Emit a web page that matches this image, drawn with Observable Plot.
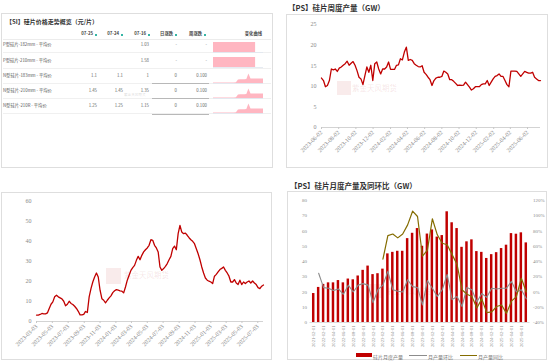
<!DOCTYPE html>
<html><head><meta charset="utf-8">
<script src="https://cdn.jsdelivr.net/npm/d3@7"></script>
<script src="https://cdn.jsdelivr.net/npm/@observablehq/plot@0.6"></script>
<style>
html,body{margin:0;padding:0;background:#fff}
body{width:550px;height:362px;position:relative;overflow:hidden;font-family:"Noto Sans CJK SC","Noto Sans",sans-serif}
#root{position:absolute;left:0;top:0;width:550px;height:362px}
.box{position:absolute;border:1px solid #dedede;box-sizing:border-box}
.t{position:absolute;white-space:nowrap;line-height:1}
svg{overflow:visible}
</style></head><body>
<div id="root"></div>
<script>
// ---------- Panel 1: price table ----------
const tableTitle = "【SI】硅片价格走势概览（元/片）";
const tableHeaders = ["07-25", "07-24", "07-16", "日涨跌", "周涨跌"];
const sparkHeader = "变化曲线";
const products = ["P型硅片-182mm - 平均价", "P型硅片-210mm - 平均价", "N型硅片-183mm - 平均价", "N型硅片-210mm - 平均价", "N型硅片-210R - 平均价"];
const price0725 = [null, null, 1.1, 1.45, 1.25];
const price0724 = [null, null, 1.1, 1.45, 1.25];
const price0716 = [1.03, 1.58, 1, 1.35, 1.15];
const dayChange = ["-", "-", "0", "0", "0"];
const weekChange = ["-", "-", "0.100", "0.100", "0.100"];
const sparkP = [1,1,1,1,1,1,1,1,1,1,1,1,1,1,1,1,0,0,0,0];
const sparkN = [0.05,0.05,0.05,0.05,0.05,0.05,0.05,0.05,0.05,0.05,0.05,0.08,0.36,0.38,0.38,0.38,0.4,0.95,0.45,0.45,0.45,0.45,0.45,0.45,0.45];
const sparkRows = [sparkP, sparkP, sparkN, sparkN, sparkN];

// ---------- Panel 2: weekly wafer output (GW) ----------
const weeklyTitle = "【PS】硅片周度产量（GW）";
const weeklyStartDate = "2023-06-02";
const weeklyOutput = [12.0,11.4,9.9,10.2,11.4,14.2,14.0,14.2,13.6,14.4,14.7,15.1,15.5,16.1,15.1,15.6,16.0,15.1,13.8,12.2,11.8,10.4,12.6,14.7,13.4,15.1,11.4,15.5,15.9,14.2,13.0,14.2,14.2,14.7,15.9,14.1,14.1,14.1,15.1,15.2,16.7,16.4,18.3,19.5,16.3,16.5,16.3,15.5,15.1,14.8,14.7,15.0,13.4,12.9,12.2,11.6,10.2,11.4,12.0,12.2,12.2,12.4,13.7,13.4,13.0,11.6,11.6,11.2,10.7,10.2,10.3,10.2,10.3,11.0,10.4,9.8,9.1,9.4,9.9,9.9,9.9,10.4,10.6,10.6,11.4,10.2,11.0,11.8,12.4,12.6,13.0,12.4,12.4,11.4,10.4,9.9,13.7,13.7,13.7,13.6,13.0,12.4,13.0,13.6,13.4,13.2,13.2,13.4,12.2,11.8,11.4,11.4];
const weeklyTicks = ["2023-06-02","2023-08-02","2023-10-02","2023-12-02","2024-02-02","2024-04-02","2024-06-02","2024-08-02","2024-10-02","2024-12-02","2025-02-02","2025-04-02","2025-06-02"];
const weeklyYTicks = [0, 5, 10, 15, 20, 25];

// ---------- Panel 3: weekly series ----------
const series3StartDate = "2023-03-03";
const series3 = [3.2,3.2,3.5,4.0,3.8,3.8,4.3,6.5,8.6,9.8,12.3,13.1,12.3,11.8,11.3,10.1,7.8,8.6,10.1,9.0,8.5,7.6,6.5,5.1,3.3,3.3,3.6,5.0,4.5,12.3,16.4,19.7,22.2,24.2,22.2,15.6,11.4,10.6,9.3,10.6,11.8,12.8,14.4,15.3,15.9,15.6,15.3,15.1,14.3,17.2,20.6,23.1,25.5,26.9,28.0,30.5,32.5,30.8,33.0,34.7,35.8,36.7,38.0,40.8,40.5,38.0,36.7,34.7,27.2,25.5,26.4,27.5,28.9,30.8,32.5,36.3,37.6,35.8,43.8,47.9,44.6,43.8,44.1,43.0,41.8,40.8,40.0,38.8,36.3,33.8,30.8,27.2,24.2,21.7,20.6,20.1,19.7,18.9,22.6,23.5,24.7,25.9,26.5,27.2,25.5,24.2,22.6,19.7,19.7,20.9,19.2,18.4,20.6,18.4,19.7,18.9,19.7,20.2,19.2,20.2,19.2,18.4,16.9,16.4,17.6,18.2];
const series3Ticks = ["2023-03-03","2023-05-03","2023-07-03","2023-09-03","2023-11-03","2024-01-03","2024-03-03","2024-05-03","2024-07-03","2024-09-03","2024-11-03","2025-01-03","2025-03-03","2025-05-03","2025-07-03"];
const series3YTicks = [0, 10, 20, 30, 40, 50, 60];

// ---------- Panel 4: monthly output & MoM / YoY ----------
const monthlyTitle = "【PS】硅片月度产量及同环比（GW）";
const months = ["2021-12-01","2022-01-01","2022-02-01","2022-03-01","2022-04-01","2022-05-01","2022-06-01","2022-07-01","2022-08-01","2022-09-01","2022-10-01","2022-11-01","2022-12-01","2023-01-01","2023-02-01","2023-03-01","2023-04-01","2023-05-01","2023-06-01","2023-07-01","2023-08-01","2023-09-01","2023-10-01","2023-11-01","2023-12-01","2024-01-01","2024-02-01","2024-03-01","2024-04-01","2024-05-01","2024-06-01","2024-07-01","2024-08-01","2024-09-01","2024-10-01","2024-11-01","2024-12-01","2025-01-01","2025-02-01","2025-03-01","2025-04-01","2025-05-01","2025-06-01","2025-07-01"];
const monthlyOutput = [19,23,25,26,26,27.5,26,28.5,28,30.5,34.2,37,31.4,32,35,45,46,46.7,46.7,55,58.5,61.6,50,58,60.7,56,57,72.6,65.4,61.6,49.3,52.9,54.2,46.5,46,42,44.5,45.8,48.5,50.7,58.3,57.9,58.8,52.2];
const momPct = [null,24.6,5.7,5,2,4,-3,9,0,9,11,9,-14,3,9,27,3,1,0,16,7,6,-17,15,5,-6,3,23,-10,-6,-19,6,3,-13,-2,-7,5,4,5,5,14,0,3,-9];
const yoyPct = [null,null,null,null,null,null,null,null,null,null,null,null,null,null,43,74,76,71,76,88,106,99,47,55,96,75,64,62,49,36,3,-3,-6,-21,-9,-27,-26,-19,-17,-28,-12,-6,18,0];
const leftTicks = [0,10,20,30,40,50,60,70,80];
const rightTickLabels = ["-40%","-20%","0%","20%","40%","60%","80%","100%","120%"];
const legendLabels = ["硅片月度产量", "月产量环比", "月产量同比"];
const watermark = "紫金天风期货";

// colours
const RED = "#c00000", GRAY = "#8c8c8c", OLIVE = "#846c00", AXIS = "#8a8a8a";

const root = document.getElementById("root");
function box(l, t, w, h) {
  const d = document.createElement("div"); d.className = "box";
  Object.assign(d.style, {left: l + "px", top: t + "px", width: w + "px", height: h + "px"});
  root.appendChild(d); return d;
}
function txt(s, x, y, anchor, css) {
  const d = document.createElement("div"); d.className = "t"; d.textContent = s;
  d.style.left = x + "px"; d.style.top = y + "px";
  const tx = anchor === "end" ? "-100%" : anchor === "middle" ? "-50%" : "0";
  d.style.transform = `translate(${tx},-50%)`;
  Object.assign(d.style, css || {});
  root.appendChild(d); return d;
}
function rect(l, t, w, h, bg) {
  const d = document.createElement("div");
  Object.assign(d.style, {position: "absolute", left: l + "px", top: t + "px", width: w + "px", height: h + "px", background: bg});
  root.appendChild(d); return d;
}
function mount(svg, l, t) {
  const w = document.createElement("div");
  Object.assign(w.style, {position: "absolute", left: l + "px", top: t + "px"});
  w.appendChild(svg); root.appendChild(w);
}
const parse = d3.utcParse("%Y-%m-%d");
const fmt = d3.utcFormat("%Y-%m-%d");

// ===== Panel 1 =====
box(1, 13, 272, 155);
txt(tableTitle, 6, 21.5, "start", {fontSize: "6px", fontWeight: "700", color: "#333", fontFamily: "'Noto Sans CJK SC'"});
const colRight = [97, 123, 149, 177, 207];
const headRight = [93, 119, 146, 173, 202];
const rowY = [44, 59.8, 75.2, 90, 105.2];
tableHeaders.forEach((h, i) => {
  txt(h, headRight[i], 33, "end", {fontSize: "4.3px", color: "#444", fontWeight: "600"});
  rect(headRight[i] + 2, 33.5, 1.6, 2.6, "#35b5a5");
});
txt(sparkHeader, 262, 33, "end", {fontSize: "4.3px", color: "#444", fontWeight: "600"});
rect(3, 38.5, 268, 0.6, "#ececec");
[52, 67.5, 82.8, 97.8, 112.8].forEach(y => rect(3, y, 268, 0.6, "#f0f0f0"));
[82.8, 97.8, 113.8].forEach(y => rect(152, y, 57, 0.8, "#b8b8b8"));
const fmtV = v => v == null ? "" : String(v);
products.forEach((p, r) => {
  const y = rowY[r];
  txt(p, 3, y, "start", {fontSize: "4.3px", color: "#555"});
  [fmtV(price0725[r]), fmtV(price0724[r]), fmtV(price0716[r]), dayChange[r], weekChange[r]].forEach((v, c) => {
    if (v !== "") txt(v, colRight[c], y, "end", {fontSize: "4.3px", color: "#666"});
  });
  const data = sparkRows[r].map((v, i) => ({i, v}));
  const sp = Plot.plot({
    width: 50, height: 10, margin: 0,
    x: {domain: [0, data.length - 1], axis: null},
    y: {domain: [0, 1], axis: null},
    marks: [
      Plot.ruleY([0], {stroke: "#dfe6ef", strokeWidth: 0.8}),
      Plot.areaY(data, {x: "i", y: "v", fill: "#ffb6c1", curve: r < 2 ? "step-after" : "linear"})
    ]
  });
  mount(sp, 213, y - 2.5);
});
txt(watermark, 124, 94.5, "start", {fontSize: "3.6px", color: "rgba(150,150,150,0.35)"});

// ===== Panel 2 =====
txt(weeklyTitle, 288, 8, "start", {fontSize: "7.5px", fontWeight: "700", color: "#333"});
box(286, 14, 262, 154);
const wStart = parse(weeklyStartDate);
const weekly = weeklyOutput.map((v, i) => ({date: d3.utcDay.offset(wStart, 7 * i), v}));
txt(watermark, 352, 88, "start", {fontSize: "7.5px", color: "rgba(200,90,90,0.16)"});
rect(337, 81, 14, 14, "rgba(200,60,60,0.10)");
const p2 = Plot.plot({
  width: 262, height: 154, marginLeft: 35, marginRight: 8, marginTop: 10, marginBottom: 41,
  style: {fontSize: "6px", color: AXIS, fontFamily: "'Liberation Serif', serif", background: "transparent"},
  x: {type: "utc", domain: [weekly[0].date, weekly[weekly.length - 1].date], label: null},
  y: {domain: [0, 25], label: null},
  marks: [
    Plot.axisY({ticks: weeklyYTicks, tickSize: 0, tickPadding: 5, label: null}),
    Plot.ruleY([0], {stroke: "#c8c8c8", strokeWidth: 0.8}),
    Plot.axisX({ticks: weeklyTicks.map(parse), tickFormat: fmt, tickRotate: -45, tickSize: 2, tickPadding: 2, stroke: "#c8c8c8", label: null}),
    Plot.lineY(weekly, {x: "date", y: "v", stroke: RED, strokeWidth: 1.3})
  ]
});
mount(p2, 286, 14);

// ===== Panel 3 =====
box(1, 192, 271, 168);
const s3Start = parse(series3StartDate);
const s3 = series3.map((v, i) => ({date: d3.utcDay.offset(s3Start, 7 * i), v}));
rect(106, 268, 15, 16, "rgba(200,60,60,0.10)");
txt(watermark, 124, 275, "start", {fontSize: "7.5px", color: "rgba(200,90,90,0.16)"});
const p3 = Plot.plot({
  width: 271, height: 168, marginLeft: 35, marginRight: 9, marginTop: 8.7, marginBottom: 39,
  style: {fontSize: "6px", color: AXIS, fontFamily: "'Liberation Serif', serif", background: "transparent"},
  x: {type: "utc", domain: [s3[0].date, s3[s3.length - 1].date], label: null},
  y: {domain: [0, 60], label: null},
  marks: [
    Plot.axisY({ticks: series3YTicks, tickSize: 0, tickPadding: 5, label: null}),
    Plot.ruleY([0], {stroke: "#c8c8c8", strokeWidth: 0.8}),
    Plot.axisX({ticks: series3Ticks.map(parse), tickFormat: fmt, tickRotate: -45, tickSize: 2, tickPadding: 2, stroke: "#c8c8c8", label: null}),
    Plot.lineY(s3, {x: "date", y: "v", stroke: RED, strokeWidth: 1.3})
  ]
});
mount(p3, 1, 192);

// ===== Panel 4 =====
txt(monthlyTitle, 290, 186, "start", {fontSize: "7.5px", fontWeight: "700", color: "#333"});
box(287, 191, 260, 169);
const monthly = months.map((m, i) => ({
  m, v: monthlyOutput[i],
  mom: momPct[i] == null ? null : (momPct[i] + 40) / 2,
  yoy: yoyPct[i] == null ? null : (yoyPct[i] + 40) / 2
}));
rect(369, 284, 14, 14, "rgba(200,60,60,0.10)");
txt(watermark, 386, 291, "start", {fontSize: "7.5px", color: "rgba(200,90,90,0.16)"});
const p4 = Plot.plot({
  width: 260, height: 169, marginLeft: 22.5, marginRight: 17.5, marginTop: 9, marginBottom: 38,
  style: {fontSize: "5px", color: AXIS, fontFamily: "'Liberation Serif', serif", background: "transparent"},
  x: {type: "band", domain: months, padding: 0.5, label: null},
  y: {domain: [0, 80], label: null},
  marks: [
    Plot.axisY({anchor: "left", ticks: leftTicks, tickSize: 0, tickPadding: 3, label: null}),
    Plot.axisY({anchor: "right", ticks: leftTicks, tickFormat: d => rightTickLabels[leftTicks.indexOf(d)], tickSize: 0, tickPadding: 3, label: null}),
    Plot.barY(monthly, {x: "m", y: "v", fill: RED}),
    Plot.ruleY([0], {stroke: "#d0d0d0", strokeWidth: 0.8}),
    Plot.axisX({ticks: months.filter((d, i) => i % 2 === 0), tickRotate: -90, tickSize: 0, tickPadding: 3, fontSize: 4.6, label: null}),
    Plot.lineY(monthly, {x: "m", y: "mom", stroke: GRAY, strokeWidth: 1.1}),
    Plot.lineY(monthly, {x: "m", y: "yoy", stroke: OLIVE, strokeWidth: 1.2})
  ]
});
mount(p4, 287, 191);
// legend
rect(356, 353, 16, 4, RED);
txt(legendLabels[0], 373, 355.5, "start", {fontSize: "5px", color: "#777"});
rect(409, 354.6, 18, 0.9, GRAY);
txt(legendLabels[1], 428, 355.5, "start", {fontSize: "5px", color: "#777"});
rect(460, 354.5, 17, 1.1, OLIVE);
txt(legendLabels[2], 478, 355.5, "start", {fontSize: "5px", color: "#777"});
</script></body></html>
